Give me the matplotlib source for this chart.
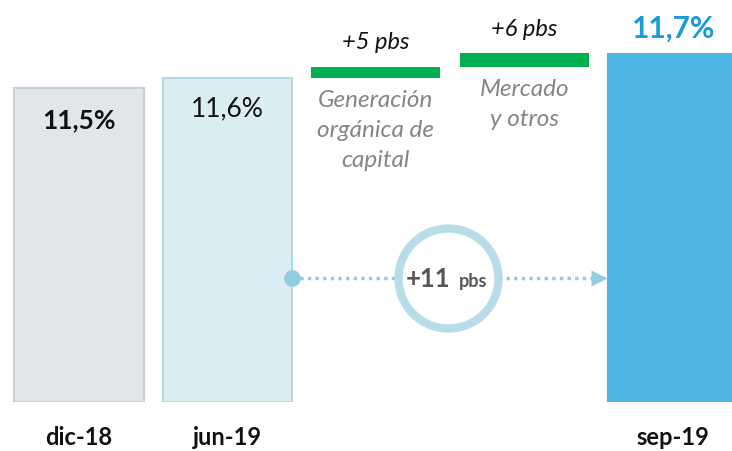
import matplotlib.pyplot as plt

# capital ratio (%) at each date, and the bridge contributions (pbs)
periods = ['dic-18', 'jun-19', 'sep-19']
ratios = [11.548, 11.595, 11.70]
ratio_labels = ['11,5%', '11,6%', '11,7%']
steps = [5, 6]
step_labels = ['+5 pbs', '+6 pbs']
step_names = ['Generación\norgánica de\ncapital', 'Mercado\ny otros']
total_label = '+11'

plt.rcParams['font.family'] = ['Lato', 'DejaVu Sans']

fig = plt.figure(figsize=(7.32, 4.52), dpi=100)
ax = fig.add_axes([0, 49 / 452, 1, 403 / 452])
base = 10.12
ax.set_ylim(base, 11.952)
ax.set_xlim(-0.532, 4.40)
ax.axis('off')

w = 0.87
xs = [0, 1, 4]
faces = ['#e1e6e9', '#daedf3', '#4db6e4']
edges = ['#c9d1d5', '#b3dbe7', '#4db6e4']
for x, v, fc, ec in zip(xs, ratios, faces, edges):
    ax.bar(x, v - base, bottom=base, width=w, color=fc, edgecolor=ec, linewidth=1.5)

# green floating steps from jun-19 up to sep-19
level = ratios[1]
for i, (s, lab, name) in enumerate(zip(steps, step_labels, step_names)):
    x = 2 + i
    ax.bar(x, s / 100, bottom=level, width=w, color='#00b050', edgecolor='none')
    ax.annotate(lab, (x, level + s / 100), xytext=(0, 25), textcoords='offset pixels',
                ha='center', va='center', fontsize=17, style='italic', color='#111111')
    ax.annotate(name, (x, level), xytext=(0, -11), textcoords='offset pixels',
                ha='center', va='top', fontsize=17.5, style='italic', color='#858585',
                linespacing=1.55)
    level += s / 100

# value labels
ax.annotate(ratio_labels[0], (0, ratios[0]), xytext=(0, -31), textcoords='offset pixels',
            ha='center', va='center', fontsize=19, fontweight='bold', color='#111111')
ax.annotate(ratio_labels[1], (1, ratios[1]), xytext=(0, -30), textcoords='offset pixels',
            ha='center', va='center', fontsize=19, color='#111111')
ax.annotate(ratio_labels[2], (4, ratios[2]), xytext=(0, 27), textcoords='offset pixels',
            ha='center', va='center', fontsize=21.5, fontweight='bold', color='#1a9ad6')

# period labels under the bars
for x, p in zip(xs, periods):
    ax.annotate(p, (x, base), xytext=(0, -35), textcoords='offset pixels',
                ha='center', va='center', fontsize=17, fontweight='bold',
                color='#111111', annotation_clip=False)

# dotted connector jun-19 -> sep-19 with the total in a ring
y_conn = base + 0.383 * (ratios[1] - base)
x0, x1 = 1 + w / 2, 4 - w / 2
ax.plot([x0, x1 - 0.1], [y_conn, y_conn], ls=(0, (1, 1.2)), lw=2.5, color='#93cde0', zorder=3)
ax.plot(x0, y_conn, 'o', ms=11, color='#93cde0', zorder=4)
ax.plot(x1 - 0.06, y_conn, '>', ms=12, color='#93cde0', mec='none', zorder=4)
xc = (x0 + x1) / 2 - 0.015
ax.plot(xc, y_conn, 'o', ms=72, mfc='white', mec='#b8dde8', mew=6, zorder=5)
ax.annotate(total_label, (xc, y_conn), xytext=(-20, 0), textcoords='offset pixels',
            ha='center', va='center', fontsize=18.5, fontweight='bold', color='#555555', zorder=6)
ax.annotate('pbs', (xc, y_conn), xytext=(25, -3), textcoords='offset pixels',
            ha='center', va='center', fontsize=13, fontweight='bold', color='#555555', zorder=6)

fig.savefig('out.png', dpi=100)
